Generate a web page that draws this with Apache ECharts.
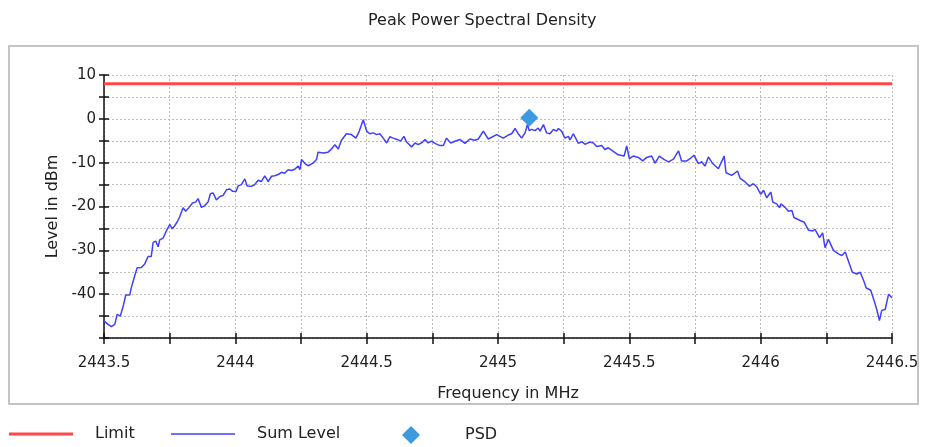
<!DOCTYPE html>
<html>
<head>
<meta charset="utf-8">
<script src="https://cdn.jsdelivr.net/npm/echarts@6/dist/echarts.min.js"></script>
<style>
  html, body { margin: 0; padding: 0; background: #fff; }
  #chart { width: 928px; height: 447px; }
</style>
</head>
<body>
<div id="chart"></div>
<script>
// frequency (MHz) / level (dBm) pairs
const freqs = [
  2443.500, 2443.515, 2443.528, 2443.541, 2443.550, 2443.562, 2443.572, 2443.583, 2443.598, 2443.604,
  2443.617, 2443.626, 2443.642, 2443.655, 2443.668, 2443.680, 2443.687, 2443.697, 2443.706, 2443.712,
  2443.725, 2443.738, 2443.750, 2443.760, 2443.769, 2443.778, 2443.788, 2443.801, 2443.811, 2443.824,
  2443.837, 2443.849, 2443.858, 2443.871, 2443.884, 2443.896, 2443.905, 2443.915, 2443.928, 2443.941,
  2443.953, 2443.966, 2443.979, 2443.989, 2444.002, 2444.011, 2444.023, 2444.036, 2444.045, 2444.061,
  2444.074, 2444.087, 2444.099, 2444.112, 2444.125, 2444.138, 2444.150, 2444.163, 2444.176, 2444.188,
  2444.201, 2444.214, 2444.226, 2444.239, 2444.246, 2444.252, 2444.265, 2444.277, 2444.296, 2444.309,
  2444.315, 2444.334, 2444.353, 2444.366, 2444.379, 2444.392, 2444.404, 2444.423, 2444.442, 2444.459,
  2444.472, 2444.487, 2444.500, 2444.512, 2444.525, 2444.538, 2444.550, 2444.563, 2444.576, 2444.588,
  2444.601, 2444.616, 2444.629, 2444.642, 2444.652, 2444.671, 2444.684, 2444.696, 2444.709, 2444.722,
  2444.734, 2444.747, 2444.760, 2444.779, 2444.792, 2444.804, 2444.820, 2444.836, 2444.855, 2444.874,
  2444.893, 2444.912, 2444.925, 2444.944, 2444.963, 2444.995, 2445.020, 2445.039, 2445.052, 2445.065,
  2445.077, 2445.090, 2445.103, 2445.112, 2445.119, 2445.128, 2445.141, 2445.153, 2445.160, 2445.173,
  2445.185, 2445.198, 2445.211, 2445.223, 2445.230, 2445.242, 2445.255, 2445.268, 2445.274, 2445.287,
  2445.306, 2445.319, 2445.331, 2445.350, 2445.363, 2445.376, 2445.395, 2445.407, 2445.420, 2445.439,
  2445.458, 2445.480, 2445.490, 2445.500, 2445.515, 2445.534, 2445.551, 2445.566, 2445.585, 2445.598,
  2445.614, 2445.630, 2445.649, 2445.668, 2445.687, 2445.699, 2445.719, 2445.731, 2445.746, 2445.763,
  2445.776, 2445.788, 2445.801, 2445.817, 2445.839, 2445.861, 2445.868, 2445.890, 2445.912, 2445.922,
  2445.941, 2445.957, 2445.972, 2445.985, 2446.000, 2446.011, 2446.023, 2446.039, 2446.046, 2446.061,
  2446.072, 2446.077, 2446.093, 2446.106, 2446.119, 2446.127, 2446.150, 2446.166, 2446.182, 2446.199,
  2446.207, 2446.224, 2446.236, 2446.245, 2446.258, 2446.277, 2446.296, 2446.309, 2446.322, 2446.338,
  2446.349, 2446.366, 2446.379, 2446.392, 2446.402, 2446.419, 2446.432, 2446.442, 2446.452, 2446.461,
  2446.474, 2446.487, 2446.500
];
const sumLevel = [
  -46.1, -46.9, -47.4, -46.9, -44.6, -45.0, -43.0, -40.2, -40.2, -38.5,
  -35.8, -34.0, -33.9, -33.1, -31.4, -31.4, -28.2, -27.9, -29.2, -27.6,
  -27.2, -25.5, -24.1, -25.1, -24.4, -23.6, -22.4, -20.3, -21.1, -20.2,
  -19.2, -19.0, -18.2, -20.2, -19.8, -19.0, -17.1, -16.9, -18.5, -17.7,
  -17.5, -16.2, -16.0, -16.5, -16.6, -15.3, -15.0, -13.7, -15.3, -15.4,
  -15.0, -14.0, -14.3, -13.0, -14.3, -13.1, -13.0, -12.7, -12.2, -12.4,
  -11.6, -11.8, -11.5, -10.8, -11.6, -9.3, -10.2, -10.7, -10.1, -9.3,
  -7.6, -7.8, -7.6, -6.9, -5.9, -6.9, -4.9, -3.4, -3.6, -4.4,
  -2.8, -0.2, -2.8, -3.4, -3.2, -3.6, -3.4, -4.4, -5.5, -4.1,
  -4.4, -4.7, -5.1, -4.0, -5.3, -6.4, -5.5, -5.9, -5.5, -4.7,
  -5.5, -5.1, -5.6, -6.1, -6.1, -4.4, -5.5, -5.1, -4.7, -5.6,
  -4.6, -4.9, -4.6, -2.8, -4.6, -3.6, -4.4, -3.7, -3.4, -2.2,
  -3.4, -4.4, -3.2, -1.3, -2.7, -2.4, -2.7, -2.1, -2.8, -1.3,
  -3.2, -3.4, -2.4, -2.8, -2.2, -2.8, -4.4, -4.0, -4.8, -3.4,
  -5.6, -5.2, -5.8, -5.3, -5.5, -6.3, -6.1, -7.0, -6.6, -7.4,
  -8.2, -8.5, -6.2, -9.1, -8.5, -8.8, -9.6, -8.8, -8.5, -10.1,
  -8.5, -9.2, -9.8, -9.2, -7.3, -9.6, -9.6, -9.1, -8.3, -10.2,
  -9.8, -10.8, -8.7, -10.2, -11.4, -8.5, -12.3, -12.9, -11.9, -13.6,
  -14.4, -15.4, -14.8, -15.5, -17.2, -16.3, -18.0, -16.7, -19.0, -19.4,
  -20.3, -19.4, -20.2, -21.1, -20.9, -22.5, -23.2, -23.6, -25.4, -25.6,
  -25.2, -27.1, -26.0, -29.4, -27.5, -30.0, -30.8, -31.2, -30.4, -33.1,
  -35.0, -35.4, -35.0, -36.9, -38.6, -39.1, -41.5, -43.5, -46.0, -43.7,
  -43.5, -40.0, -40.8
];
const limitFreqs = [2443.5, 2446.5];
const limitLevel = [8, 8];
const psdFreq = [2445.119];
const psdLevel = [0.25];

const FONT = "DejaVu Sans";

var dom = document.getElementById("chart");
var myChart = echarts.init(dom, null, { renderer: "canvas" });

function pairs(xs, ys) {
  return xs.map((x, i) => [x, ys[i]]);
}

function legendItem(name, left, icon, iconW, iconH, gap) {
  return {
    data: [name],
    left: left,
    top: 426,
    padding: 0,
    icon: icon,
    itemWidth: iconW,
    itemHeight: iconH,
    itemGap: 0,
    selectedMode: false,
    textStyle: {
      fontFamily: FONT,
      fontSize: 16,
      color: "#222",
      padding: [0, 0, 0, gap],
    },
  };
}

var option = {
  animation: false,
  backgroundColor: "#fff",
  title: {
    text: "Peak Power Spectral Density",
    left: 363,
    top: 8,
    textStyle: { fontFamily: FONT, fontSize: 16, fontWeight: "normal", color: "#222" },
  },
  graphic: [
    {
      type: "rect",
      shape: { x: 9, y: 46, width: 909, height: 358 },
      style: { fill: "none", stroke: "#c4c4c4", lineWidth: 2 },
      silent: true,
      z: -1,
    },
  ],
  legend: [
    legendItem("Limit", 9, "rect", 64, 3, 17),
    legendItem("Sum Level", 171, "rect", 64, 1.5, 17),
    legendItem("PSD", 402, "diamond", 18, 18, 40),
  ],
  grid: { left: 104, right: 36, top: 75, bottom: 109, containLabel: false },
  xAxis: [
    {
      type: "value",
      min: 2443.5,
      max: 2446.5,
      interval: 0.25,
      name: "Frequency in MHz",
      nameLocation: "middle",
      nameGap: 48,
      nameTextStyle: { fontFamily: FONT, fontSize: 16, color: "#222", padding: [0, 0, 0, 20] },
      axisLine: { onZero: false, lineStyle: { color: "#111", width: 1.5 } },
      axisTick: { length: 6, lineStyle: { color: "#111", width: 1.5 } },
      axisLabel: {
        fontFamily: FONT,
        fontSize: 15,
        color: "#222",
        margin: 18,
        formatter: (v) => (Math.abs(v * 2 - Math.round(v * 2)) < 1e-6 ? String(+v.toFixed(1)) : ""),
      },
      splitLine: { show: true, lineStyle: { type: [2, 2], color: "#bdbdbd", width: 1 } },
    },
    {
      type: "value",
      min: 2443.5,
      max: 2446.5,
      interval: 0.25,
      position: "bottom",
      axisLine: { show: false, onZero: false },
      axisTick: { inside: true, length: 5, lineStyle: { color: "#111", width: 1.5 } },
      axisLabel: { show: false },
      splitLine: { show: false },
    },
  ],
  yAxis: [
    {
      type: "value",
      min: -50,
      max: 10,
      interval: 5,
      name: "Level in dBm",
      nameLocation: "middle",
      nameGap: 39,
      nameTextStyle: { fontFamily: FONT, fontSize: 16, color: "#222" },
      axisLine: { onZero: false, lineStyle: { color: "#111", width: 1.5 } },
      axisTick: { length: 5, lineStyle: { color: "#111", width: 1.5 } },
      axisLabel: {
        fontFamily: FONT,
        fontSize: 15,
        color: "#222",
        margin: 8,
        formatter: (v) => (v % 10 === 0 && v > -50 ? String(v) : ""),
      },
      splitLine: { show: true, lineStyle: { type: [2, 2], color: "#bdbdbd", width: 1 } },
    },
    {
      type: "value",
      min: -50,
      max: 10,
      interval: 5,
      position: "left",
      axisLine: { show: false, onZero: false },
      axisTick: { inside: true, length: 5, lineStyle: { color: "#111", width: 1.5 } },
      axisLabel: { show: false },
      splitLine: { show: false },
    },
  ],
  series: [
    {
      name: "Limit",
      type: "line",
      symbol: "none",
      data: pairs(limitFreqs, limitLevel),
      lineStyle: { color: "#ff4747", width: 3 },
      itemStyle: { color: "#ff4747" },
      z: 3,
    },
    {
      name: "Sum Level",
      type: "line",
      symbol: "none",
      data: pairs(freqs, sumLevel),
      lineStyle: { color: "#4040ff", width: 1.5 },
      itemStyle: { color: "#4040ff" },
      z: 2,
    },
    {
      name: "PSD",
      type: "scatter",
      symbol: "diamond",
      symbolSize: 18,
      data: pairs(psdFreq, psdLevel),
      itemStyle: { color: "#3d9ae0", opacity: 1 },
      z: 4,
    },
  ],
};

myChart.setOption(option);
window.addEventListener("resize", myChart.resize);
</script>
</body>
</html>
